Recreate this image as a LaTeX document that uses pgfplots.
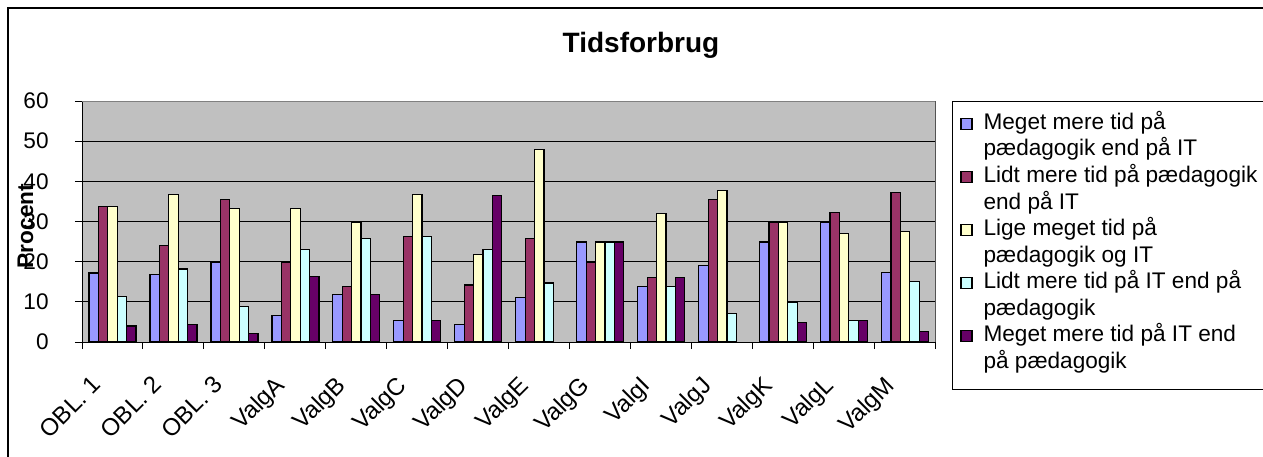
\documentclass[border=0pt]{standalone}
\usepackage{fontspec}
\setmainfont{Liberation Sans}
\usepackage{pgfplots}
\pgfplotsset{compat=1.18}
\definecolor{sA}{HTML}{9999FF}
\definecolor{sB}{HTML}{993366}
\definecolor{sC}{HTML}{FFFFCC}
\definecolor{sD}{HTML}{CCFFFF}
\definecolor{sE}{HTML}{660066}
\definecolor{bg}{HTML}{C0C0C0}
\definecolor{bd}{HTML}{808080}
\newcommand{\fs}{\fontsize{11.3}{13.5}\selectfont}
\newcommand{\fx}{\fontsize{12}{14}\selectfont}
\pgfplotsset{
  mybar/.style={ybar, bar width=4.7pt, bar shift=#1, draw=black, line width=0.6pt,
    legend image code/.code={\draw[##1, line width=0.6pt] (0pt,-2.75pt) rectangle (5.5pt,2.75pt);}},
}
\begin{document}
\begin{tikzpicture}
\useasboundingbox (0,0) rectangle (631.5pt,228pt);
\draw[line width=1pt] (4pt,-20pt) rectangle (660pt,224pt);
\begin{axis}[
  at={(41pt,57pt)}, anchor=south west,
  scale only axis, width=426.8pt, height=120.5pt,
  xmin=-0.5, xmax=13.5, ymin=0, ymax=60,
  ytick={0,10,...,60},
  xtick={-0.5,0.5,...,13.5}, xticklabels={},
  extra x ticks={0,1,...,13},
  extra x tick labels={OBL. 1,OBL. 2,OBL. 3,ValgA,ValgB,ValgC,ValgD,ValgE,ValgG,ValgI,ValgJ,ValgK,ValgL,ValgM},
  extra x tick style={major tick length=0pt},
  xtick pos=bottom, ytick pos=left,
  tick align=outside, major tick length=3.5pt,
  tick style={black, line width=0.5pt},
  ymajorgrids, major grid style={black, line width=0.5pt},
  axis background/.style={fill=bg},
  axis line style={black, line width=0.5pt},
  /pgf/number format/assume math mode=true,
  every tick label/.append style={font=\fs, inner sep=0pt},
  yticklabel style={anchor=east, xshift=-13pt},
  xticklabel style={xshift=-11pt, yshift=-16pt, rotate=45, anchor=north east, font=\fx},
  ylabel={Procent},
  ylabel style={at={(axis description cs:-0.0574,0.481)}, anchor=base, font=\fs\bfseries},
  title={Tidsforbrug},
  title style={at={(axis description cs:0.6549,1.2004)}, anchor=base, yshift=-6pt, font=\fontsize{14}{16}\selectfont\bfseries},
  legend cell align=left,
  legend style={at={(axis description cs:1.0192,1)}, anchor=north west, draw=black, fill=white,
    inner xsep=4pt, inner ysep=6pt, row sep=2.78pt, font=\fs,
    nodes={inner sep=0pt, text height=8pt, text depth=2.5pt},
    /tikz/row 10/.style={nodes={text depth=4.6pt}},
    /tikz/every odd column/.append style={column sep=5.5pt}},
]
\addplot[mybar=-9.4pt, fill=sA] coordinates {(0,17.2)(1,16.8)(2,19.9)(3,6.6)(4,11.9)(5,5.4)(6,4.4)(7,11.1)(8,24.9)(9,13.8)(10,19.1)(11,24.9)(12,29.7)(13,17.3)};
\addlegendentry{Meget mere tid på}
\addlegendimage{empty legend}\addlegendentry{pædagogik end på IT}
\addplot[mybar=-4.7pt, fill=sB] coordinates {(0,33.7)(1,24.0)(2,35.5)(3,19.9)(4,13.8)(5,26.3)(6,14.2)(7,25.8)(8,19.9)(9,16.0)(10,35.5)(11,29.7)(12,32.3)(13,37.3)};
\addlegendentry{Lidt mere tid på pædagogik}
\addlegendimage{empty legend}\addlegendentry{end på IT}
\addplot[mybar=0pt, fill=sC] coordinates {(0,33.7)(1,36.8)(2,33.3)(3,33.3)(4,29.7)(5,36.8)(6,21.8)(7,48.0)(8,24.9)(9,32.0)(10,37.8)(11,29.7)(12,27.1)(13,27.5)};
\addlegendentry{Lige meget tid på}
\addlegendimage{empty legend}\addlegendentry{pædagogik og IT}
\addplot[mybar=4.7pt, fill=sD] coordinates {(0,11.4)(1,18.2)(2,8.8)(3,23.0)(4,25.8)(5,26.3)(6,23.0)(7,14.7)(8,24.9)(9,13.8)(10,7.0)(11,9.8)(12,5.4)(13,15.1)};
\addlegendentry{Lidt mere tid på IT end på}
\addlegendimage{empty legend}\addlegendentry{pædagogik}
\addplot[mybar=9.4pt, fill=sE] coordinates {(0,4.0)(1,4.4)(2,2.2)(3,16.4)(4,11.9)(5,5.4)(6,36.4)(8,24.9)(9,16.0)(11,4.9)(12,5.4)(13,2.7)};
\addlegendentry{Meget mere tid på IT end}
\addlegendimage{empty legend}\addlegendentry{på pædagogik}
\draw[bd, line width=0.5pt] (rel axis cs:0,1) -- (rel axis cs:1,1) -- (rel axis cs:1,0);
\end{axis}
\end{tikzpicture}
\end{document}
